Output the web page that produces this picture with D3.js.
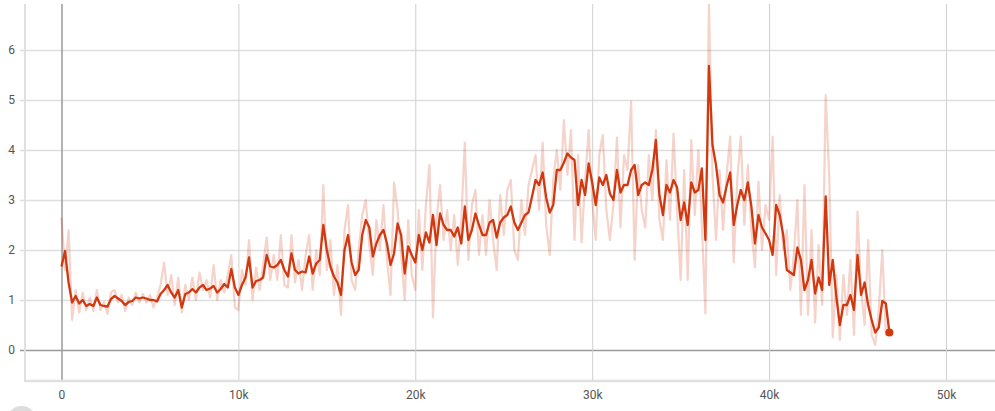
<!DOCTYPE html>
<html>
<head>
<meta charset="utf-8">
<script src="https://cdn.jsdelivr.net/npm/d3@7"></script>
<style>
  html, body { margin: 0; padding: 0; background: #fff; }
  svg { display: block; }
  text { font-family: Roboto, "Noto Sans", sans-serif; }
</style>
</head>
<body>
<svg id="chart" width="995" height="411"></svg>
<script>
// ---- Data ----
const stepInterval = 200;   // training steps between logged points
const smoothed = [
  1.67, 1.98, 1.35, 0.95, 1.08, 0.93, 1.0, 0.88, 0.92, 0.88,
  1.05, 0.9, 0.88, 0.87, 1.02, 1.08, 1.03, 0.98, 0.9, 0.96,
  0.98, 1.05, 1.03, 1.05, 1.03, 1.0, 1.0, 0.97, 1.12, 1.2,
  1.3, 1.15, 1.05, 1.2, 0.85, 1.12, 1.15, 1.22, 1.15, 1.25,
  1.3, 1.2, 1.23, 1.28, 1.15, 1.22, 1.32, 1.25, 1.62, 1.25,
  1.1, 1.3, 1.45, 1.85, 1.25, 1.38, 1.4, 1.45, 1.9, 1.67,
  1.65, 1.7, 1.8, 1.6, 1.47, 1.93, 1.6, 1.53, 1.57, 1.55,
  1.87, 1.53, 1.73, 1.8, 2.5, 2.0, 1.67, 1.47, 1.35, 1.1,
  2.0, 2.3, 1.75, 1.5, 1.6, 2.3, 2.6, 2.45, 1.87, 2.13,
  2.3, 2.4, 2.13, 1.7, 1.93, 2.53, 2.3, 1.53, 2.07, 1.9,
  1.75, 2.3, 2.0, 2.35, 2.15, 2.7, 2.1, 2.73, 2.5, 2.4,
  2.4, 2.27, 2.45, 2.13, 2.87, 2.2, 2.4, 2.73, 2.5, 2.3,
  2.3, 2.55, 2.6, 2.25, 2.55, 2.65, 2.7, 2.87, 2.55, 2.4,
  2.55, 2.7, 2.75, 3.07, 3.4, 3.3, 3.55, 3.05, 2.75, 2.9,
  3.6, 3.6, 3.75, 3.93, 3.85, 3.8, 2.9, 3.4, 3.1, 3.73,
  3.35, 2.9, 3.45, 3.3, 3.5, 3.13, 3.0, 3.6, 3.15, 3.3,
  3.3, 3.6, 3.7, 3.1, 3.3, 3.35, 3.3, 3.6, 4.2, 3.1,
  2.7, 3.3, 3.15, 3.4, 3.25, 2.6, 2.95, 2.5, 3.35, 3.15,
  3.2, 3.63, 2.2, 5.68, 4.1, 3.7, 3.1, 2.95, 3.28, 3.55,
  2.5, 2.9, 3.2, 3.0, 3.35, 2.87, 2.13, 2.7, 2.45, 2.33,
  2.2, 1.9, 2.9, 2.7, 2.3, 1.6, 1.55, 1.5, 2.05, 1.8,
  1.2, 1.4, 1.8, 1.13, 1.45, 1.2, 3.07, 1.3, 1.8, 1.07,
  0.5, 0.9, 0.9, 1.1, 0.8, 1.9, 1.1, 1.35, 0.9, 0.6,
  0.35, 0.45, 0.98, 0.93, 0.35
];
const raw = [
  2.65, 1.6, 2.4, 0.6, 1.2, 0.75, 1.15, 0.8, 1.05, 0.78,
  1.2, 0.8, 0.95, 0.72, 1.15, 1.2, 0.95, 1.1, 0.78, 1.05,
  0.9, 1.15, 0.95, 1.12, 0.95, 1.1, 0.85, 1.05, 1.3, 1.75,
  1.1, 1.5, 0.9, 1.45, 0.75, 1.3, 1.0, 1.45, 1.0, 1.55,
  1.2, 1.4, 1.05, 1.7, 1.0, 1.4, 1.15, 1.5, 1.9, 0.85,
  0.8, 1.6, 1.3, 2.2, 1.0, 1.65, 1.2, 1.7, 2.25, 1.4,
  1.9, 1.4, 2.3, 1.3, 1.25, 2.3, 1.35, 1.8, 1.2, 1.9,
  2.3, 1.2, 2.0, 1.5, 3.3, 1.6, 2.2, 1.1, 1.7, 0.7,
  2.4, 2.9, 1.4, 1.2, 2.0, 2.7, 3.0, 2.1, 1.5, 2.6,
  2.0, 2.9, 1.8, 1.1, 3.35, 2.8, 1.9, 1.0, 2.6, 1.5,
  1.2, 2.8, 1.6, 2.9, 3.7, 0.65, 2.6, 3.3, 2.2, 2.8,
  2.0, 2.7, 1.7, 2.6, 4.15, 1.8, 2.9, 3.2, 1.9, 2.7,
  1.9, 3.0, 2.2, 1.6, 3.1, 2.3, 3.2, 3.4, 2.0, 1.8,
  3.0, 2.3, 3.3, 3.6, 3.9, 2.8, 4.15, 2.5, 1.9, 3.4,
  4.0, 3.2, 4.6, 3.5, 4.4, 2.2, 3.9, 2.15, 3.4, 4.4,
  3.0, 2.2, 3.9, 4.3, 2.8, 2.2, 2.9, 4.25, 2.45, 3.9,
  3.6, 4.97, 1.8, 3.7, 2.8, 2.45, 3.9, 3.0, 4.4, 2.6,
  2.2, 3.8, 2.6, 4.33, 2.8, 1.4, 3.6, 1.4, 4.2, 2.7,
  4.0, 2.5, 0.73, 6.95, 3.5, 2.2, 3.6, 2.4, 3.5, 4.27,
  1.75, 3.4, 4.27, 2.5, 3.7, 2.4, 1.65, 3.37, 2.0, 2.9,
  2.6, 4.27, 1.5, 3.1, 2.0, 2.4, 1.2, 1.9, 3.0, 0.7,
  3.3, 0.7, 2.4, 0.55, 2.1, 0.9, 5.1, 3.47, 0.25, 1.5,
  0.2, 1.5, 0.7, 1.8, 0.3, 2.77, 1.2, 0.5, 2.2, 0.3,
  0.1, 0.8, 2.0, 0.3, 0.35
];
const xTicks = [0, 10000, 20000, 30000, 40000, 50000];
const xTickLabels = ["0", "10k", "20k", "30k", "40k", "50k"];
const yTicks = [0, 1, 2, 3, 4, 5, 6];

// ---- Layout ----
const svg = d3.select("#chart");
const pLeft = 25, pRight = 995, pTop = 4, pBottom = 381;
const color = "#d2380f";

const x = d3.scaleLinear().domain([-2063, 52771]).range([pLeft, pRight]);
const y = d3.scaleLinear().domain([-0.62, 6.92]).range([pBottom, pTop]);

const pts = (arr) => arr.map((v, i) => ({ step: i * stepInterval, v }));
const rawPts = pts(raw), smPts = pts(smoothed);

svg.append("defs").append("clipPath").attr("id", "plotclip")
  .append("rect").attr("x", pLeft).attr("y", pTop).attr("width", pRight - pLeft).attr("height", pBottom - pTop);

// horizontal grid (y)
const gy = svg.append("g").attr("transform", `translate(${pLeft},0)`)
  .call(d3.axisLeft(y).tickValues(yTicks).tickFormat(d3.format("d"))
        .tickSize(-(pRight - pLeft)).tickSizeOuter(0).tickPadding(10));
gy.select(".domain").remove();
gy.selectAll(".tick line").attr("x1", -5)
  .attr("stroke", (d) => d === 0 ? "#9a9a9a" : "#dedede")
  .attr("stroke-width", 1.5);
gy.selectAll(".tick text").attr("fill", "#555").style("font-size", "12px");

// vertical grid (x)
const gx = svg.append("g").attr("transform", `translate(0,${pBottom})`)
  .call(d3.axisBottom(x).tickValues(xTicks).tickFormat((d, i) => xTickLabels[i])
        .tickSize(-(pBottom - pTop)).tickSizeOuter(0).tickPadding(9));
gx.select(".domain").remove();
gx.selectAll(".tick line").attr("stroke", (d) => d === 0 ? "#9a9a9a" : "#cfcfcf")
  .attr("stroke-width", (d) => d === 0 ? 1.5 : 1);
gx.selectAll(".tick text").attr("fill", "#555").style("font-size", "12px");

// frame lines (left and bottom)
svg.append("line").attr("x1", pLeft).attr("x2", pLeft).attr("y1", pTop).attr("y2", pBottom + 1)
  .attr("stroke", "#e0e0e0").attr("stroke-width", 2);
svg.append("line").attr("x1", pLeft).attr("x2", pRight).attr("y1", pBottom).attr("y2", pBottom)
  .attr("stroke", "#e0e0e0").attr("stroke-width", 2.5);

const line = d3.line().x(d => x(d.step)).y(d => y(d.v));
const plot = svg.append("g").attr("clip-path", "url(#plotclip)");

plot.append("path").datum(rawPts).attr("d", line)
  .attr("fill", "none").attr("stroke", color).attr("stroke-opacity", 0.22)
  .attr("stroke-width", 2.2).attr("stroke-linejoin", "round");
plot.append("path").datum(smPts).attr("d", line)
  .attr("fill", "none").attr("stroke", color)
  .attr("stroke-width", 2.3).attr("stroke-linejoin", "round");

const last = smPts[smPts.length - 1];
svg.append("circle").attr("cx", x(last.step)).attr("cy", y(last.v)).attr("r", 4).attr("fill", color);

// corner button
svg.append("circle").attr("cx", 21.5).attr("cy", 421).attr("r", 15).attr("fill", "#dddddd");
</script>
</body>
</html>
